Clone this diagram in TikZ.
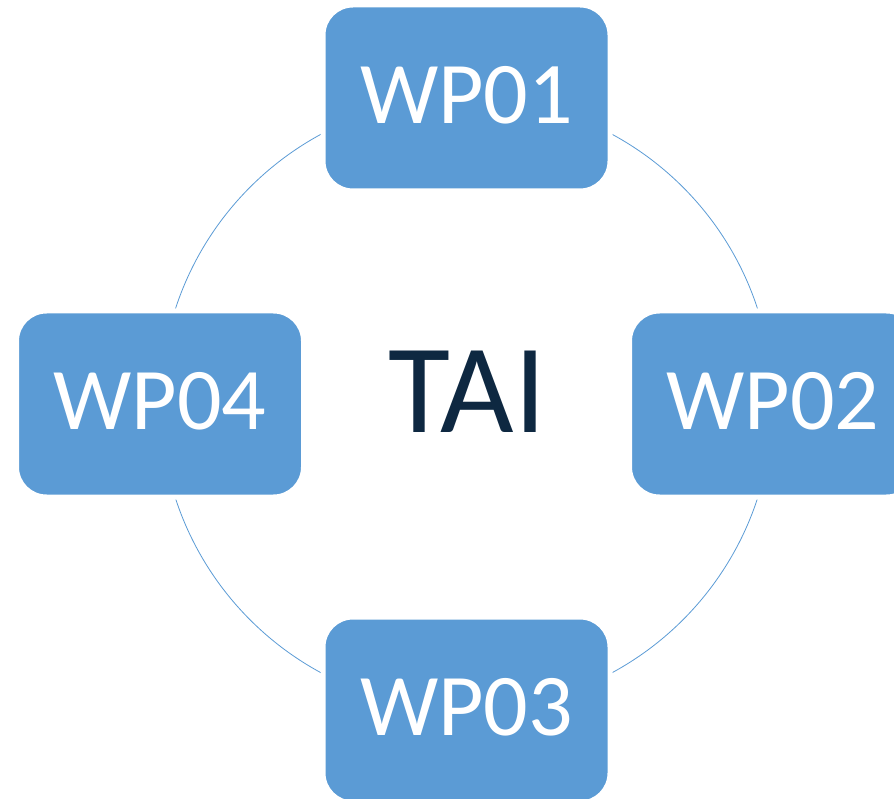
\documentclass[tikz,border=0pt]{standalone}
\usepackage{fontspec}
\setmainfont{Carlito}
\definecolor{boxblue}{HTML}{5B9BD5}
\definecolor{taiblue}{HTML}{0E2841}
\begin{document}
\begin{tikzpicture}[x=1pt,y=-1pt,
  wpbox/.style={fill=boxblue, draw=white, line width=5pt, rounded corners=30pt, minimum width=287pt, minimum height=186pt,
    inner sep=0pt, text=white, text depth=7pt, font=\fontsize{88}{88}\selectfont},
  ring/.style={draw=boxblue, line width=0.8pt}]
\useasboundingbox (0,0) rectangle (894,799);
\clip (0,0) rectangle (894,799);
\coordinate (c) at (466.5,403.5);
\draw[ring] (c) circle[radius=306pt];
\node[wpbox] (wp1) at (466.5,98) {WP01};
\node[wpbox] (wp2) at (773,404) {WP02};
\node[wpbox] (wp3) at (466.5,710) {WP03};
\node[wpbox] (wp4) at (160,404) {WP04};
\node[text=taiblue, inner sep=0pt, anchor=base, font=\fontsize{127}{127}\selectfont] (tai) at (467.5,432) {TAI};
\end{tikzpicture}
\end{document}
